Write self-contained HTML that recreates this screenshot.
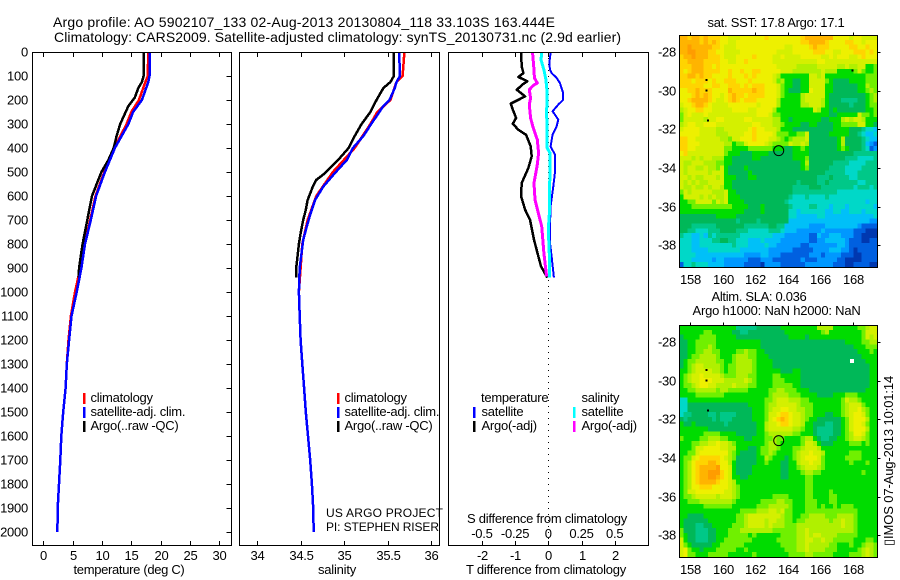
<!DOCTYPE html>
<html>
<head>
<meta charset="utf-8">
<title>Argo profile</title>
<style>
html,body{margin:0;padding:0;background:#fff}
svg{display:block}
text{font-family:"Liberation Sans",Arial,sans-serif;font-size:13px;letter-spacing:-.25px;fill:#000}
text.ttl{font-size:14px;letter-spacing:0}
text.sm{font-size:12px;letter-spacing:0}
</style>
</head>
<body>
<svg id="chart" xmlns="http://www.w3.org/2000/svg" width="900" height="580" viewBox="0 0 900 580">
<rect width="900" height="580" fill="#fff"/>
<text class="ttl" x="53" y="27" textLength="502">Argo profile: AO 5902107_133 02-Aug-2013 20130804_118 33.103S 163.444E</text>
<text class="ttl" x="54" y="42" textLength="567">Climatology: CARS2009. Satellite-adjusted climatology: synTS_20130731.nc (2.9d earlier)</text>
<g id="maps"></g>
<g id="plots"></g>
<text x="129" y="574" text-anchor="middle" textLength="111">temperature (deg C)</text>
<text x="337" y="574" text-anchor="middle" textLength="38">salinity</text>
<text x="546" y="574" text-anchor="middle" textLength="160">T difference from climatology</text>
<text x="547" y="523" text-anchor="middle" textLength="160">S difference from climatology</text>
<text class="sm" x="326" y="517" textLength="117">US ARGO PROJECT</text>
<text class="sm" x="326" y="531" textLength="113">PI: STEPHEN RISER</text>
<text x="90.5" y="402">climatology</text>
<text x="90.5" y="416">satellite-adj. clim.</text>
<text x="90.5" y="430">Argo(..raw -QC)</text>
<text x="344.5" y="402">climatology</text>
<text x="344.5" y="416">satellite-adj. clim.</text>
<text x="344.5" y="430">Argo(..raw -QC)</text>
<text x="481" y="402">temperature</text>
<text x="481.5" y="416">satellite</text>
<text x="481.5" y="430">Argo(-adj)</text>
<text x="581.5" y="402">salinity</text>
<text x="581.5" y="416">satellite</text>
<text x="581.5" y="430">Argo(-adj)</text>
<rect x="83" y="393" width="2.4" height="11" fill="#f00" shape-rendering="crispEdges"/>
<rect x="83" y="407" width="2.4" height="11" fill="#00f" shape-rendering="crispEdges"/>
<rect x="83" y="421" width="2.4" height="11" fill="#000" shape-rendering="crispEdges"/>
<rect x="337" y="393" width="2.4" height="11" fill="#f00" shape-rendering="crispEdges"/>
<rect x="337" y="407" width="2.4" height="11" fill="#00f" shape-rendering="crispEdges"/>
<rect x="337" y="421" width="2.4" height="11" fill="#000" shape-rendering="crispEdges"/>
<rect x="473" y="407" width="2.4" height="11" fill="#00f" shape-rendering="crispEdges"/>
<rect x="473" y="421" width="2.4" height="11" fill="#000" shape-rendering="crispEdges"/>
<rect x="573" y="407" width="2.4" height="11" fill="#0ff" shape-rendering="crispEdges"/>
<rect x="573" y="421" width="2.4" height="11" fill="#f0f" shape-rendering="crispEdges"/>
<text x="776" y="27" text-anchor="middle" textLength="137">sat. SST: 17.8 Argo: 17.1</text>
<text x="759" y="301" text-anchor="middle" textLength="95">Altim. SLA: 0.036</text>
<text x="776.5" y="315" text-anchor="middle" textLength="168">Argo h1000: NaN h2000: NaN</text>
<text transform="translate(893 546) rotate(-90)" textLength="170">&#9647;IMOS 07-Aug-2013 10:01:14</text>
</svg>
<script>
// ---------- profile data ----------
const depthTicks = [0,100,200,300,400,500,600,700,800,900,1000,1100,1200,1300,1400,1500,1600,1700,1800,1900,2000];
const tempTicks = [0,5,10,15,20,25,30];
const salTicks = [34,34.5,35,35.5,36];
const salTickLabels = ['34','34.5','35','35.5','36'];
const tDiffTicks = [-2,-1,0,1,2];
const sDiffTicks = [-0.5,-0.25,0,0.25,0.5];
const sDiffTickLabels = ['-0.5','-0.25','0','0.25','0.5'];
const lonTicks = [158,160,162,164,166,168];
const latTicks = [-28,-30,-32,-34,-36,-38];

const climDepth = [0,100,125,200,250,300,400,500,600,700,800,900,1000,1100,1200,1300,1400,1500,1600,1700,1800,1900,2000];
const tempClim = [17.9,17.8,17.4,16.3,15,14.2,12.1,10.4,8.9,8,7,6.3,5.4,4.7,4.3,4,3.8,3.4,3.07,2.9,2.68,2.45,2.4];
const tempSat = [18.1,18.1,17.9,16.8,15.3,14.5,12.2,10.5,9,8.1,7.1,6.5,5.7,4.8,4.4,4,3.8,3.4,3.07,2.9,2.68,2.45,2.4];
const salClim = [35.69,35.67,35.6,35.53,35.38,35.3,35.12,34.87,34.68,34.58,34.52,34.5,34.48,34.49,34.5,34.52,34.54,34.56,34.585,34.61,34.63,34.645,34.65];
const salSatDepth = [0,100,125,150,200,225,300,350,400,450,506,561,617,672,728,783,900,1000,1100,1200,1300,1400,1500,1600,1700,1800,1900,2000];
const salSat = [35.63,35.64,35.6,35.58,35.52,35.45,35.31,35.22,35.1,35.03,34.89,34.76,34.665,34.615,34.57,34.53,34.49,34.48,34.49,34.5,34.52,34.54,34.56,34.585,34.61,34.63,34.645,34.65];
const argoTempDepth = [0,100,125,150,190,225,300,350,400,450,500,550,600,650,700,800,850,900,940];
const tempArgo = [17.16,17.1,16.8,16.2,15.6,14.5,13.1,12.5,12,11.1,9.9,9.1,8.3,7.9,7.5,6.7,6.4,6.1,6];
const argoSalDepth = [0,100,125,150,200,250,300,350,400,450,478,505,533,561,589,617,658,700,756,800,900,940];
const salArgo = [35.57,35.57,35.53,35.45,35.37,35.3,35.2,35.12,35.05,34.93,34.85,34.78,34.68,34.64,34.61,34.58,34.56,34.53,34.50,34.48,34.45,34.45];

const satDiffTDepth = [4,46,74,88,108,129,171,199,219,247,261,282,310,344,393,428,504,560,643,726,796,851,940];
const satDiffT = [.07,.03,.05,.10,.25,.35,.45,.45,.30,.13,.20,.30,.25,.13,.07,.20,.20,.15,.07,.05,.05,.10,.17];
const argoDiffTDepth = [4,60,88,104,122,133,157,185,199,215,240,275,299,324,345,393,435,483,546,601,657,699,782,851,893,940];
const argoDiffT = [-.82,-.80,-.75,-.90,-.63,-.75,-.95,-.70,-.90,-1.13,-1.07,-.97,-1.07,-.90,-.67,-.53,-.50,-.60,-.80,-.82,-.70,-.55,-.43,-.30,-.22,-.03];
const argoDiffSDepth = [4,74,108,129,139,157,192,219,275,317,365,421,469,546,615,671,726,838,935];
const argoDiffS = [-.118,-.108,-.105,-.083,-.113,-.143,-.133,-.143,-.133,-.113,-.083,-.073,-.083,-.108,-.100,-.075,-.050,-.033,-.013];
const satDiffSDepth = [4,32,74,115,171,254,338,400,421,504,588,671,740,851,940];
const satDiffS = [-.05,-.055,-.033,-.018,-.008,-.013,-.008,-.008,.013,.013,.008,.008,0,.008,.008];

// ---------- map data: one character per cell, colour level 0 (coldest/lowest) .. e (warmest/highest) ----------
const sstLevels = [
"ddcddcdccc bbaaabbbbb bcbbbbbbbb cdddddddbb bbabbaaaa",
"dddddcdcdc bbaabbbbbb bbbbbbbbbb ccddddcbbb bccbbabbb",
"ddedddddcc baaabbbbbb bbbbbbaabb bbcdcccbbb bbccbbcbb",
"ddeedddccb baaaabbbbb bbbbaaaabb bbbcccbbaa bbbcccbcb",
"cddedddccc baaabbbbcb bbbaabaaaa bbbbbaabab bbaabcbbb",
"ccddddcccc bbaabbcbbb bbbaaaaaaa aaaabbaaaa aaaaaaaaa",
"cccdddccbc bbbbbbbbbb bbbbaaaaa9 9999aaaaa9 9a99aa778",
"cbcdddcccc bbcbbcbbcc bbbbbaaa99 99999a9997 7778a8778",
"ccddcdccbb bbcbbbcbcb bbba977777 77aa9a7777 777777888",
"cccbcccbcb bcccbbbcbb bbba897766 77aaaa8766 667777888",
"ccccccbbcc bbcccbcbcc cbbba87766 77aaaa7766 666677988",
"bbccdcccbb bbdcccccdc cbbba87666 77baaa7766 666677898",
"bbbcdcdcbb abcdccbccc cbbba87777 9aaaaa7666 666666789",
"bbcddddcba abcdcbcccb bbbb977777 9aaaa97666 555566789",
"abbcddcbaa aabbbbbbba bbbb977777 99aaa97666 665666788",
"9abbccbbaa aaabbbbaab bbb9777777 777a977676 666666778",
"8abaaabaaa aaaaaaaaab bba8877777 7777777667 7777a8878",
"8aaaaa9aab baaaaabbaa aaa9977677 7777766777 9a9aa9777",
"9abbaabbba aaaaaaaabb aaa9987777 6677666677 8888aa776",
"abbbbaaaa9 9aaaaaabcb baaa977766 6666666677 776665443",
"bbbbbaaaa9 99aaaabbcb bbba888778 8a66666777 776654334",
"ccbbaaaaaa 998aabbbcb bbaa987899 9a66666667 966665433",
"ccbbbaaaaa a99788abbb ba98888a99 a966666667 966665321",
"ccbbaaaaaa a887777888 8887776677 8766666667 876665412",
"bcaaaaaaaa a877766677 7766666677 7766666666 666555555",
"aaa9a9aa99 9776666677 6666666677 7866666666 655544445",
"a99aaa9998 8776666666 6666666666 7966666655 554444555",
"a9aa99a998 a766667666 6666666666 7866666555 544445555",
"a9aaaaa9aa a766666766 6666666666 6666665555 544455555",
"aa9a99aaa9 a777666776 6666666666 6666555655 554455555",
"a9a9a99aaa a776666666 6666666665 6666556555 555544555",
"a99a99a9aa 9776666666 6666666655 5566655555 555455545",
"8a9aaaaa99 9a77666666 6666666655 5555555554 444444444",
"7aaaa9a9a9 9a77766666 6666666544 4544445444 444444444",
"7788aaaa8a 9a77776666 6666665444 4444444444 444444344",
"7778888888 8887777666 7666666544 4455444344 434444443",
"7777777777 7777776666 7666666443 4444443344 334443444",
"6666666667 7777666666 6666666443 3333443333 333333334",
"6666666666 6666566665 6666666333 3333333333 333333322",
"6665555556 6666665555 5566553333 3322223333 333321111",
"6655444555 6666555444 4455543332 2222232222 222111000",
"5443343545 5555544444 4443332222 2211322333 222110000",
"4443344455 6655444333 4333322222 2211223333 321110011",
"4443344444 4445444333 3433222222 1122222223 321111111",
"4443333444 4444433333 3322222211 1112222333 221011111",
"4444333333 3333332222 3322211111 1122212222 111001111",
"4443333323 3222222111 2221111111 2111222221 100001111",
"1445444333 3222221111 0222211111 1222222211 100111100"
];
const slaLevels = [
"7777777777 7777555556 6666677777 7777999977 7777889aa",
"7777778877 7776655666 6666667777 7777789777 777778aaa",
"6777788887 7777666666 6666666777 7677777777 777778a9a",
"6677888887 7777777777 6666666666 6666666666 677778899",
"6677888987 7777777777 6666666666 6666666666 666777888",
"6677889988 7777889887 7666666666 6666666666 666677787",
"6678899998 7778999887 7766666666 6666666666 666667777",
"6788999998 8778999987 7776666666 6666666666 666666777",
"6789aa9999 8788999987 7776666666 6666666666 666666677",
"7789aaaa99 8788999987 7777766677 6666666666 666666677",
"789aabaaaa 9888999887 7778877777 6666666666 666666677",
"789aabbbaa a99999a987 7778887777 6666666666 666666677",
"7889abbaa9 999a999887 7778888877 6666666666 666666677",
"7788999998 9988888777 7788998887 7766666666 666666777",
"7777888888 8777777777 7789999888 7777666677 788877777",
"4477777777 7777777777 7889aaa999 8877777777 8a9987777",
"4466666666 6666666777 7899aaaaa9 8887777777 89aaa8777",
"4466666666 6666666677 789aabbaa9 9887777777 89aab9877",
"4556666556 5555666677 78aabccbaa 9887776677 89abba877",
"6566666656 5556666677 78abcdcbaa 9877666666 78abbb977",
"7667666666 6566666667 79aabccbaa 9776665566 78abba877",
"7777777666 6666666667 79aaaaaa99 8776555566 78abbb977",
"7777778888 7777666667 7899999988 7776555566 789bba877",
"8777788999 8877776677 7889887777 8997655667 789aa9877",
"7778899aab aa98777777 7899877777 8aa9766677 778887877",
"7778aabbbb aa99777667 8899877788 9aaa977777 777777777",
"7788abbbbb bb98766667 8898777789 aabaa97777 778887777",
"788abccccc ba98666667 7987776789 abbba87777 788887777",
"789bcccddc bb97666667 7877766779 aabaa87777 778777877",
"789bcdddde bba7666677 7777766778 9aaa987777 777777777",
"789bcddeee cba7666677 7777766777 8998877777 777778777",
"789bcddeed cba7766777 7777766777 7887777777 777777777",
"789bcddddc bba9777777 7777777777 7887777777 777777777",
"789bbcccbb bba9877777 7777777777 7887777777 777777777",
"78aabbbbbb baa9877777 7777777777 7887777877 777777777",
"7889aaaaa9 aaa9877777 7778888777 7887777887 777777777",
"7788899999 9998777777 8888998877 7888777887 777777777",
"7777778888 8887777778 8899999877 7888787787 888777777",
"7777777777 7777788889 99aa9a8877 7888888888 888877777",
"7766667777 7777889aaa aaaaa98877 8899998889 999877777",
"7666666777 7777889aaa a9aa998878 8999999899 a99877777",
"7666556677 7778889aaa a9a9998889 9999999999 a99877777",
"8666555667 7788899999 9998888889 9a99999999 999877777",
"8766555667 7788888787 7777788889 9a9aa99998 888877777",
"a766555667 7888888877 7777888889 9aa99a9988 888777887",
"a876666677 8888887777 7777788889 9a99999887 778778998",
"ab87767778 8888778777 7777778889 9a99998887 777789a98",
"ab88777888 8877777787 7777777888 8998888877 778889a98"
];
const levelColors = ['#0038b0','#0060e0','#0098ff','#00c0f8','#00d8c8','#00c888','#00b858','#00dc00','#70f000','#b0f000','#d4f000','#eef000','#ffd400','#ffb400','#ff9c00'];
const argoLon = 163.444;
const argoLat = -33.103;
const islandLons = [159.0,159.0,159.1,168.0];
const islandLats = [-29.45,-30.0,-31.55,-28.95];

// ---------- axis functions ----------
const NS = 'http://www.w3.org/2000/svg';
const yD = d => 52 + d * 0.24;
const xTemp = t => 43.3 + t * 5.867;
const xSal = s => 257 + (s - 34) * 87.2;
const xTD = t => 548.3 + t * 33.2;
const xSD = s => 548.3 + s * 132.8;
const mapLon = lon => 690.3 + (lon - 158) * 16.24;
const mapLat = (lat, top) => top + 17 + (-28 - lat) * 19.33;
const plots = document.getElementById('plots');
const maps = document.getElementById('maps');
function mk(parent, tag, attrs, txt) {
  const el = document.createElementNS(NS, tag);
  for (const k in attrs) el.setAttribute(k, attrs[k]);
  if (txt !== undefined) el.textContent = txt;
  parent.appendChild(el);
  return el;
}
function drawLine(depths, vals, xf, color, w, name) {
  const pts = depths.map((d, i) => xf(vals[i]).toFixed(1) + ',' + yD(d).toFixed(1)).join(' ');
  const el = mk(plots, 'polyline', {points: pts, fill: 'none', stroke: color, 'stroke-width': w, 'shape-rendering': 'crispEdges', 'stroke-linejoin': 'round'});
  
  
}
function drawFrame(x0, x1, name) {
  const el = mk(plots, 'rect', {x: x0, y: 52.5, width: x1 - x0, height: 493, fill: 'none', stroke: '#000', 'stroke-width': 1, 'shape-rendering': 'crispEdges'});
  
  
}
function drawXTicks(ticks, labels, xf, labelY, name) {
  ticks.forEach((t, i) => {
    const x = Math.round(xf(t)) + .5;
    const a = mk(plots, 'path', {d: `M${x} 52.5V57M${x} 545.5V541`, stroke: '#000', fill: 'none', 'shape-rendering': 'crispEdges'});
    
    
    const l = mk(plots, 'text', {x: x, y: labelY, 'text-anchor': 'middle'}, labels[i]);
    
    
  });
}

// ---------- depth axis ----------
depthTicks.forEach(d => {
  const y = Math.round(yD(d)) + .5;
  const t = mk(plots, 'path', {d: `M231.5 ${y}H226.5`, stroke: '#000', 'shape-rendering': 'crispEdges'});
  
  
  const l = mk(plots, 'text', {x: 28, y: y + 4, 'text-anchor': 'end'}, String(d));
  
  
});

// ---------- temperature panel ----------
drawLine(climDepth, tempClim, xTemp, '#f00', 2.5, 'temperature-climatology-line');
drawLine(argoTempDepth, tempArgo, xTemp, '#000', 2.5, 'temperature-argo-line');
drawLine(climDepth, tempSat, xTemp, '#00f', 2.5, 'temperature-satellite-line');
drawFrame(32.5, 231.5, 'temperature-panel-frame');
drawXTicks(tempTicks, tempTicks.map(String), xTemp, 560, 'temperature-axis');

// ---------- salinity panel ----------
drawLine(climDepth, salClim, xSal, '#f00', 2.5, 'salinity-climatology-line');
drawLine(argoSalDepth, salArgo, xSal, '#000', 2.5, 'salinity-argo-line');
drawLine(salSatDepth, salSat, xSal, '#00f', 2.5, 'salinity-satellite-line');
drawFrame(239.5, 439.5, 'salinity-panel-frame');
drawXTicks(salTicks, salTickLabels, xSal, 560, 'salinity-axis');

// ---------- difference panel ----------
const zeroLine = mk(plots, 'line', {x1: 548.5, x2: 548.5, y1: 52, y2: 545, stroke: '#000', 'stroke-dasharray': '1 5', 'shape-rendering': 'crispEdges'});


drawLine(argoDiffTDepth, argoDiffT, xTD, '#000', 2.5, 'argo-t-difference-line');
drawLine(satDiffTDepth, satDiffT, xTD, '#00f', 2, 'satellite-t-difference-line');
drawLine(argoDiffSDepth, argoDiffS, xSD, '#f0f', 3, 'argo-s-difference-line');
drawLine(satDiffSDepth, satDiffS, xSD, '#0ff', 3, 'satellite-s-difference-line');
drawFrame(448.5, 648.5, 'difference-panel-frame');
drawXTicks(tDiffTicks, tDiffTicks.map(String), xTD, 560, 't-difference-axis');
sDiffTicks.forEach((s, i) => {
  const l = mk(plots, 'text', {x: xSD(s), y: 538, 'text-anchor': 'middle'}, sDiffTickLabels[i]);
  
  
});

// ---------- maps ----------
function drawMap(levels, top, name) {
  const left = 679.5, right = 877.5, bottom = top + 232;
  const cw = (right - left) / 49, ch = 232 / 48;
  levels.forEach((row, r) => {
    const cells = row.replace(/ /g, '');
    [...cells].forEach((c, i) => {
      const cell = mk(maps, 'rect', {x: (left + i * cw).toFixed(2), y: (top + r * ch).toFixed(2), width: (cw + .3).toFixed(2), height: (ch + .3).toFixed(2), fill: levelColors[parseInt(c, 16)], 'shape-rendering': 'crispEdges'});
      
      
    });
  });
  islandLons.forEach((lon, i) => {
    const m = mk(maps, 'rect', {x: mapLon(lon) - 1, y: mapLat(islandLats[i], top) - 1, width: 2, height: 2, fill: '#000', 'shape-rendering': 'crispEdges'});
    
    
  });
  const ring = mk(maps, 'circle', {cx: mapLon(argoLon), cy: mapLat(argoLat, top), r: 5, fill: 'none', stroke: '#000'});
  
  
  const frame = mk(maps, 'rect', {x: left, y: top + .5, width: right - left, height: 232, fill: 'none', stroke: '#000', 'shape-rendering': 'crispEdges'});
  
  
  lonTicks.forEach(lon => {
    const x = Math.round(mapLon(lon)) + .5;
    const t = mk(maps, 'path', {d: `M${x} ${top}v-2.5`, stroke: '#000', 'shape-rendering': 'crispEdges'});
    
    
    const l = mk(maps, 'text', {x: x, y: bottom + 17, 'text-anchor': 'middle'}, String(lon));
    
    
  });
  latTicks.forEach(lat => {
    const y = Math.round(mapLat(lat, top)) + .5;
    const t = mk(maps, 'path', {d: `M${right} ${y}h3`, stroke: '#000', 'shape-rendering': 'crispEdges'});
    
    
    const l = mk(maps, 'text', {x: 676, y: y + 4, 'text-anchor': 'end'}, String(lat));
    
    
  });
}
drawMap(sstLevels, 35, 'sst-map');
drawMap(slaLevels, 325, 'sla-map');
const hole = mk(maps, 'rect', {x: 850, y: 359, width: 4, height: 4, fill: '#fff', 'shape-rendering': 'crispEdges'});


</script>
</body>
</html>
